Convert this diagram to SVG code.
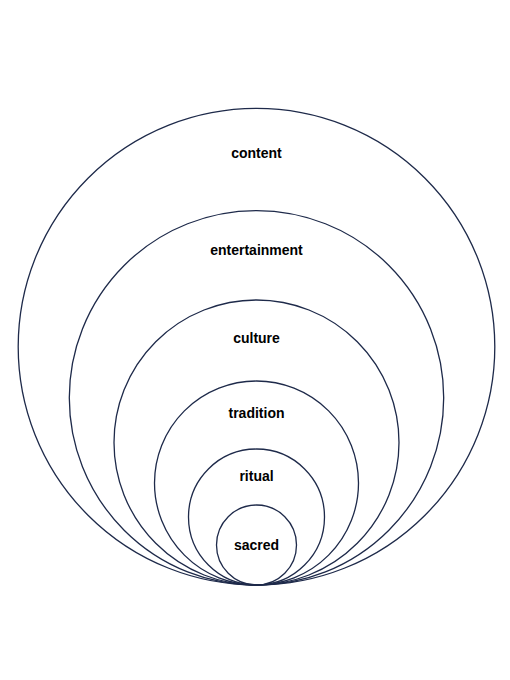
<svg xmlns="http://www.w3.org/2000/svg" width="510" height="680" viewBox="0 0 510 680">
<style>
.ring{fill:none;stroke:#1e2a4a;stroke-width:1.3}
.lbl{font-family:"Liberation Sans",Arial,sans-serif;font-weight:bold;font-size:14px;fill:#000;text-anchor:middle}
</style>
<rect width="510" height="680" fill="#fff"/>
<g id="content"><circle class="ring" cx="256.5" cy="346.7" r="238.3"/><text class="lbl" x="256.5" y="158">content</text></g>
<g id="entertainment"><circle class="ring" cx="256.5" cy="397.8" r="187.2"/><text class="lbl" x="256.5" y="255">entertainment</text></g>
<g id="culture"><circle class="ring" cx="256.5" cy="442.5" r="142.5"/><text class="lbl" x="256.5" y="342.5">culture</text></g>
<g id="tradition"><circle class="ring" cx="256.5" cy="483" r="102"/><text class="lbl" x="256.5" y="417.5">tradition</text></g>
<g id="ritual"><circle class="ring" cx="256.5" cy="517" r="68"/><text class="lbl" x="256.5" y="481">ritual</text></g>
<g id="sacred"><circle class="ring" cx="256.5" cy="545" r="40"/><text class="lbl" x="256.5" y="550">sacred</text></g>
<g id="connectors"></g>
</svg>
